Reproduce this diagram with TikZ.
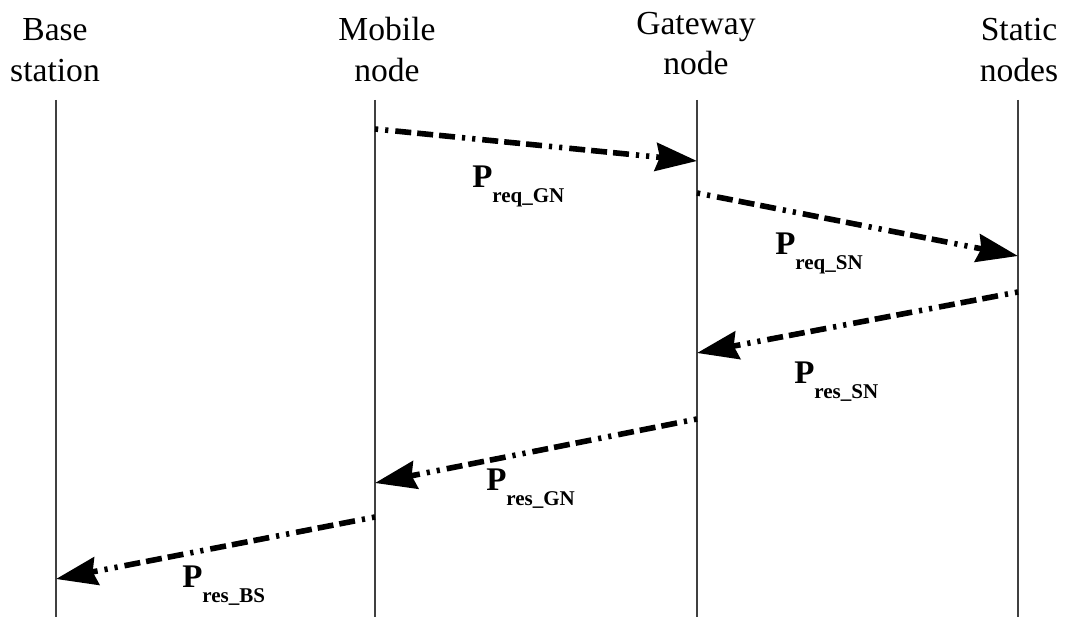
\documentclass[tikz,border=0pt]{standalone}
\usepackage{fontspec}
\setmainfont{Liberation Serif}
\usetikzlibrary{arrows.meta}
% packet label: bold P with a lowered bold subscript
\newcommand\pkt[1]{{\fontsize{24.75}{25}\selectfont\bfseries P}\raisebox{-11.25pt}{\fontsize{15.75}{16}\selectfont\bfseries #1}}
\begin{document}
\begin{tikzpicture}[x=0.75pt,y=-0.75pt,
  head/.style={font=\fontsize{25.2}{30.75}\selectfont, align=center, anchor=base, inner sep=0pt},
  lifeline/.style={line width=1.1pt, draw=black!75},
  msg/.style={line width=4.2pt, line cap=butt,
    dash pattern=on 2.4pt off 5.25pt on 2.4pt off 5.25pt on 12pt off 4.5pt on 12pt off 4.5pt on 12pt off 5.25pt,
    -{Stealth[length=31pt,width=21pt,inset=3pt]}},
  lbl/.style={anchor=base west, inner sep=0pt}]
\useasboundingbox (0,0) rectangle (1068,617);

% column headings (anchored at the baseline of their last line)
\node[head] (bs) at (55,82)  {Base\\station};
\node[head] (mn) at (387,82) {Mobile\\node};
\node[head] (gw) at (696,75) {Gateway\\node};
\node[head] (sn) at (1019,82) {Static\\nodes};

% lifelines
\coordinate (bsT) at (56,100);   \coordinate (bsB) at (56,617);
\coordinate (mnT) at (375,100);  \coordinate (mnB) at (375,617);
\coordinate (gwT) at (697,100);  \coordinate (gwB) at (697,617);
\coordinate (snT) at (1018,100); \coordinate (snB) at (1018,617);
\foreach \n in {bs,mn,gw,sn} \draw[lifeline] (\n T) -- (\n B);

% message end points on the lifelines
\coordinate (m1a) at (375,129);  \coordinate (m1b) at (697,161);
\coordinate (m2a) at (697,193);  \coordinate (m2b) at (1018,256);
\coordinate (m3a) at (1018,292); \coordinate (m3b) at (697,353);
\coordinate (m4a) at (697,419);  \coordinate (m4b) at (375,483);
\coordinate (m5a) at (375,517);  \coordinate (m5b) at (56,579);

% messages
\draw[msg] (m1a) -- (m1b);
\draw[msg] (m2a) -- (m2b);
\draw[msg] (m3a) -- (m3b);
\draw[msg] (m4a) -- (m4b);
\draw[msg] (m5a) -- (m5b);

% message labels
\node[lbl] (l1) at (472,187) {\pkt{req\_GN}};
\node[lbl] (l2) at (775,254) {\pkt{req\_SN}};
\node[lbl] (l3) at (794,383) {\pkt{res\_SN}};
\node[lbl] (l4) at (486,490) {\pkt{res\_GN}};
\node[lbl] (l5) at (182,587) {\pkt{res\_BS}};
\end{tikzpicture}
\end{document}
